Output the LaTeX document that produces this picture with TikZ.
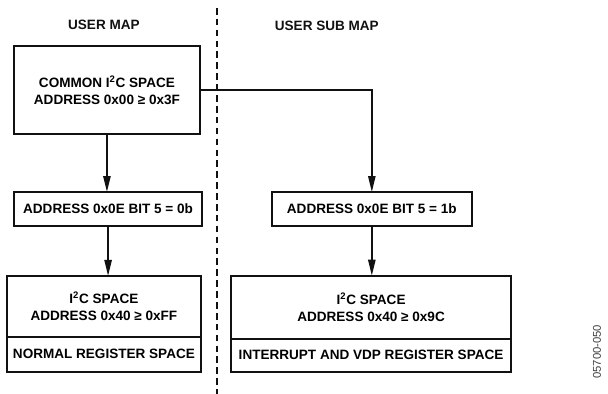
\documentclass[tikz,border=0pt]{standalone}
\usepackage{fontspec}
\setmainfont{Liberation Sans}
\usepackage{tikz}
\usetikzlibrary{arrows.meta,positioning}
\usepackage{xcolor}
\definecolor{inkblack}{HTML}{111111}

\begin{document}
\begin{tikzpicture}[
    font=\fontsize{10.2}{12.8}\selectfont\bfseries,
    box/.style={draw=inkblack,line width=1.3pt,align=center,inner sep=2pt,outer sep=0pt},
    arrow/.style={-{Triangle[length=12pt,width=5.5pt]},line width=1.2pt,draw=inkblack},
    divider/.style={draw=inkblack,line width=0.9pt,dash pattern=on 5pt off 3.2pt},
    heading/.style={font=\fontsize{10.2}{12}\selectfont\bfseries,text=inkblack},
    fignum/.style={font=\fontsize{8.5}{9}\selectfont,text=black!75,rotate=90}
  ]
    \useasboundingbox (0,0) rectangle (16.09,10.42);

    \node[heading] (usermap) at (2.75,9.76) {USER MAP};
    \node[heading] (submap) at (8.65,9.74) {USER SUB MAP};
    \coordinate (divtop) at (5.74,10.21);
    \coordinate (divbot) at (5.74,0.0);
    \draw[divider] (divtop) -- (divbot);

    \node[box,minimum width=4.92cm,minimum height=2.33cm] (common) at (2.83,8.04)
      {COMMON I\textsuperscript{2}C SPACE\\ADDRESS 0x00 ≥ 0x3F};
    \node[box,minimum width=4.97cm,minimum height=0.90cm] (bitzero) at (2.86,4.89)
      {ADDRESS 0x0E BIT 5 = 0b};
    \node[box,minimum width=5.29cm,minimum height=0.90cm] (bitone) at (9.84,4.89)
      {ADDRESS 0x0E BIT 5 = 1b};

    \node[box,minimum width=5.13cm,minimum height=1.61cm] (normtop) at (2.75,2.315)
      {I\textsuperscript{2}C SPACE\\ADDRESS 0x40 ≥ 0xFF};
    \node[box,minimum width=5.13cm,minimum height=0.93cm] (normbot) at (2.75,1.045)
      {NORMAL REGISTER SPACE};
    \node[box,minimum width=7.41cm,minimum height=1.67cm] (vdptop) at (9.82,2.29)
      {I\textsuperscript{2}C SPACE\\ADDRESS 0x40 ≥ 0x9C};
    \node[box,minimum width=7.41cm,minimum height=0.87cm] (vdpbot) at (9.82,1.02)
      {INTERRUPT AND VDP REGISTER SPACE};

    \draw[arrow] (common.south) -- (common.south |- bitzero.north);
    \draw[arrow] (common.east) -| (bitone.north);
    \draw[arrow] (bitzero.south) -- (bitzero.south |- normtop.north);
    \draw[arrow] (bitone.south) -- (bitone.south |- vdptop.north);

    \node[fignum] (figno) at (15.80,1.11) {05700-050};
  \end{tikzpicture}
\end{document}
